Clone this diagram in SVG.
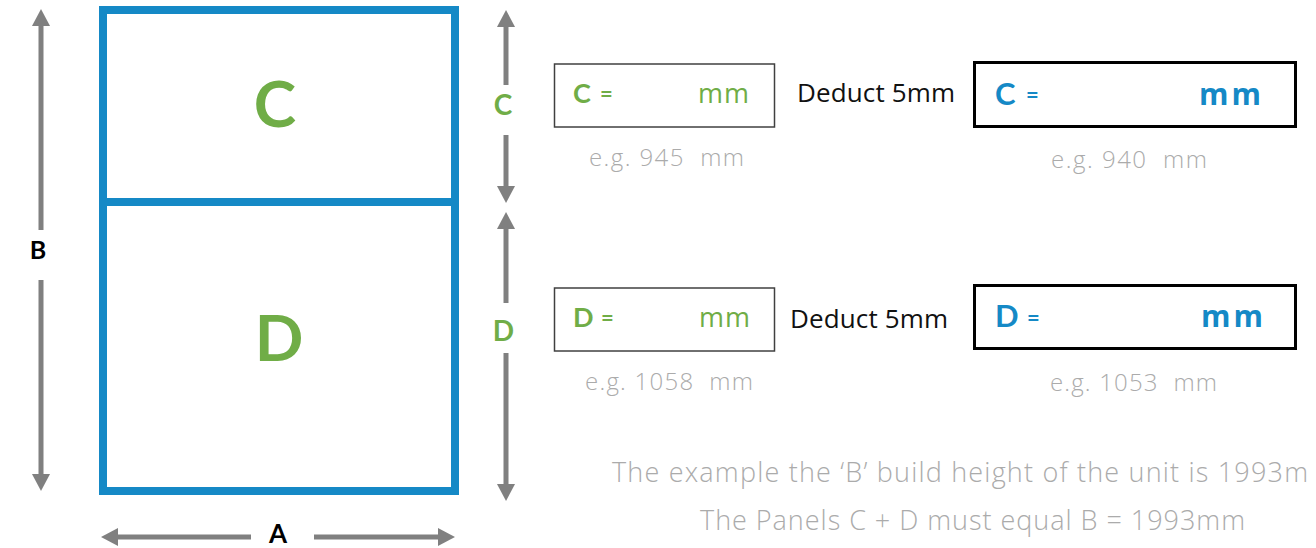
<svg xmlns="http://www.w3.org/2000/svg" width="1316" height="548" viewBox="0 0 1316 548">
<style>
text{font-family:"Open Sans",Lato,"Liberation Sans",sans-serif}
.b{font-family:Lato,"Open Sans","Liberation Sans",sans-serif;font-weight:bold}
.ob{font-family:"Open Sans",Lato,"Liberation Sans",sans-serif;font-weight:bold}
.arr{stroke:#808080;stroke-width:5;fill:none;marker-end:url(#ah)}
.lbl{fill:#000;text-anchor:middle}
.grn{fill:#70AD47}
.blu{fill:#1589C6}
.hint{fill:#ABABAB;font-size:24px;font-weight:300}
.ded{fill:#111;font-size:26px;font-weight:400}
.boxL{fill:none;stroke:#404040;stroke-width:1.5}
.boxR{fill:none;stroke:#000;stroke-width:3}
.note{fill:#ABABAB;font-size:27px;font-weight:300}
</style>
<defs>
<marker id="ah" markerUnits="userSpaceOnUse" markerWidth="18" markerHeight="18" refX="0" refY="9" orient="auto">
<path d="M0,0 L17,9 L0,18 Z" fill="#808080"/>
</marker>
</defs>

<g id="unit">
<rect x="103" y="10" width="352" height="481" fill="none" stroke="#1589C6" stroke-width="8"/>
<line x1="103" y1="202" x2="455" y2="202" stroke="#1589C6" stroke-width="8"/>
<text x="275" y="127" text-anchor="middle" font-size="64" class="b grn">C</text>
<text x="279" y="361" text-anchor="middle" font-size="64" class="b grn">D</text>
</g>

<g id="connectors">
<line class="arr" x1="41" y1="230" x2="41" y2="26"/>
<line class="arr" x1="41" y1="280" x2="41" y2="474"/>
<line class="arr" x1="506" y1="85" x2="506" y2="27"/>
<line class="arr" x1="506" y1="135" x2="506" y2="186"/>
<line class="arr" x1="506" y1="303" x2="506" y2="229"/>
<line class="arr" x1="506" y1="353" x2="506" y2="484"/>
<line class="arr" x1="251" y1="537" x2="118" y2="537"/>
<line class="arr" x1="314" y1="537" x2="438" y2="537"/>
</g>

<g id="dim-labels">
<text class="b lbl" x="38" y="259" font-size="25">B</text>
<text class="b lbl" x="278" y="543" font-size="26">A</text>
<text x="503" y="115" text-anchor="middle" font-size="28" class="b grn">C</text>
<text x="503.5" y="341" text-anchor="middle" font-size="28" class="b grn">D</text>
</g>

<g id="c-input">
<rect class="boxL" x="554.5" y="64" width="220" height="63"/>
<text x="573" y="103" font-size="27" class="b grn">C</text>
<text x="600" y="102" font-size="22" class="b grn">=</text>
<text x="698" y="103" font-size="27" class="grn" textLength="51">mm</text>
<text class="hint" x="589" y="166" textLength="155" xml:space="preserve">e.g. 945  mm</text>
</g>

<g id="c-deduct">
<text class="ded" x="797" y="102" textLength="158">Deduct 5mm</text>
</g>

<g id="c-result">
<rect class="boxR" x="974.5" y="62.5" width="321" height="64"/>
<text x="995" y="105" font-size="31" class="b blu">C</text>
<text x="1026" y="103" font-size="22" class="b blu">=</text>
<text x="1199" y="105" font-size="30" class="ob blu" textLength="62">mm</text>
<text class="hint" x="1051" y="168" textLength="156" xml:space="preserve">e.g. 940  mm</text>
</g>

<g id="d-input">
<rect class="boxL" x="554.5" y="288" width="220" height="63"/>
<text x="573" y="327" font-size="27" class="b grn">D</text>
<text x="601" y="326" font-size="22" class="b grn">=</text>
<text x="699" y="327" font-size="27" class="grn" textLength="51">mm</text>
<text class="hint" x="585" y="390" textLength="168" xml:space="preserve">e.g. 1058  mm</text>
</g>

<g id="d-deduct">
<text class="ded" x="790" y="328" textLength="158">Deduct 5mm</text>
</g>

<g id="d-result">
<rect class="boxR" x="974.5" y="285.5" width="321" height="63"/>
<text x="995" y="327" font-size="31" class="b blu">D</text>
<text x="1027" y="326" font-size="22" class="b blu">=</text>
<text x="1201" y="327" font-size="30" class="ob blu" textLength="62">mm</text>
<text class="hint" x="1050" y="391" textLength="167" xml:space="preserve">e.g. 1053  mm</text>
</g>

<g id="notes">
<text class="note" x="612" y="482" textLength="696">The example the ‘B’ build height of the unit is 1993m</text>
<text class="note" x="700" y="530" textLength="545">The Panels C + D must equal B = 1993mm</text>
</g>
</svg>
